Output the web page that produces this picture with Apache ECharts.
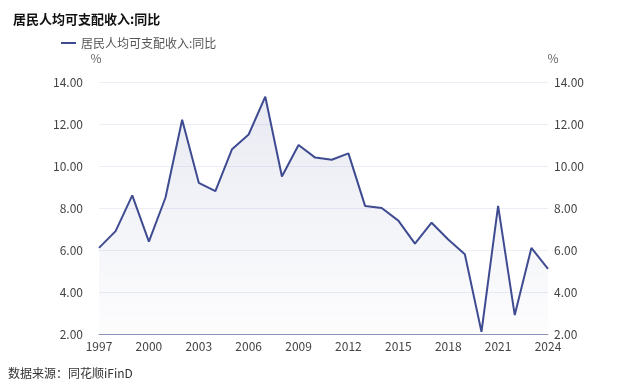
<!DOCTYPE html>
<html><head><meta charset="utf-8">
<script src="https://cdn.jsdelivr.net/npm/echarts@6/dist/echarts.min.js"></script>
<style>html,body{margin:0;padding:0;background:#fff}#c{width:640px;height:392px}</style>
</head><body><div id="c"></div>
<script>
const titleText = '居民人均可支配收入:同比';
const seriesName = '居民人均可支配收入:同比';
const sourceText = '数据来源：同花顺iFinD';
const years = ['1997','1998','1999','2000','2001','2002','2003','2004','2005','2006','2007','2008','2009','2010','2011','2012','2013','2014','2015','2016','2017','2018','2019','2020','2021','2022','2023','2024'];
const values = [6.1,6.9,8.6,6.4,8.5,12.2,9.2,8.8,10.8,11.5,13.3,9.5,11.0,10.4,10.3,10.6,8.1,8.0,7.4,6.3,7.3,6.5,5.8,2.1,8.1,2.9,6.1,5.1];
const yMin = 2, yMax = 14, yStep = 2;
const font = '"Noto Sans CJK SC", sans-serif';
const lineColor = '#3f4b91';
const chart = echarts.init(document.getElementById('c'), null, {renderer:'canvas'});
const yAxisBase = {
  type:'value', min:yMin, max:yMax, interval:yStep, name:'%',
  nameGap:18,
  axisLine:{show:false}, axisTick:{show:false},
  axisLabel:{color:'#444', fontSize:12, fontFamily:font, formatter:v=>v.toFixed(2)},
  splitLine:{lineStyle:{color:'#eceef6'}}
};
chart.setOption({
  animation:false,
  title:{text:titleText, left:8, top:8, textStyle:{fontSize:13, fontWeight:'bold', color:'#111', fontFamily:font}},
  legend:{data:[seriesName], left:56, top:32, icon:'rect', itemWidth:15, itemHeight:2, itemGap:5,
    textStyle:{color:'#555', fontSize:12, fontFamily:font}},
  graphic:[{type:'text', left:8, top:367, style:{text:sourceText, fill:'#333', fontSize:12, fontFamily:font}}],
  grid:{left:99, right:92, top:82, bottom:58, containLabel:false},
  xAxis:{type:'category', data:years, boundaryGap:false,
    axisLine:{lineStyle:{color:'#8d93b8'}}, axisTick:{show:false},
    axisLabel:{color:'#444', fontSize:12, fontFamily:font, interval:2, margin:6}},
  yAxis:[Object.assign({}, yAxisBase, {position:'left',
            nameTextStyle:{color:'#666', fontSize:12, fontFamily:font, padding:[0,6,0,0]},
            axisLabel:Object.assign({}, yAxisBase.axisLabel,{margin:16})}),
         Object.assign({}, yAxisBase, {position:'right', splitLine:{show:false},
            nameTextStyle:{color:'#666', fontSize:12, fontFamily:font, padding:[0,0,0,10]},
            axisLabel:Object.assign({}, yAxisBase.axisLabel,{margin:6})})],
  series:[{name:seriesName, type:'line', data:values, symbol:'none', yAxisIndex:0,
    lineStyle:{color:lineColor, width:2}, itemStyle:{color:lineColor},
    areaStyle:{color:new echarts.graphic.LinearGradient(0,0,0,1,[{offset:0,color:'rgba(63,75,145,0.16)'},{offset:1,color:'rgba(63,75,145,0.02)'}])}}]
});
</script></body></html>
